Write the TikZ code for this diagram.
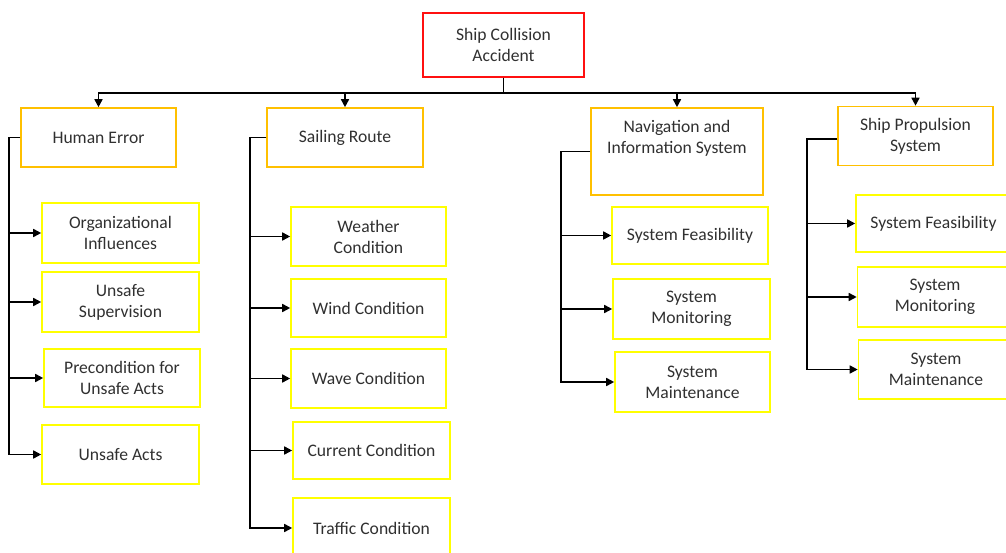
\documentclass[tikz,border=0pt]{standalone}
\usepackage{fontspec}
\setmainfont{Carlito}
\usetikzlibrary{arrows.meta}
\definecolor{txt}{HTML}{303030}
\definecolor{orangeb}{HTML}{FFC000}
\definecolor{yellowb}{HTML}{FFFF00}
\definecolor{redb}{HTML}{FF1010}
\tikzset{
  box/.style={draw, line width=1.6pt, align=center, inner sep=2pt, text=txt,
    font=\fontsize{17.6}{21}\selectfont},
  rootbox/.style={box, draw=redb},
  mainbox/.style={box, draw=orangeb},
  subbox/.style={box, draw=yellowb},
  conn/.style={line width=1.6pt, black, -{Triangle[length=8pt,width=8pt]}},
}
\begin{document}
\begin{tikzpicture}[x=1pt,y=-1pt]
\useasboundingbox (0,0) rectangle (1006,553);
\clip (0,0) rectangle (1006,553);
% root
\node[rootbox, minimum width=161pt, minimum height=64pt] (root) at (503.5,45) {Ship Collision\\Accident};
% main
\node[mainbox, minimum width=155pt, minimum height=59pt] (he) at (98.5,137.5) {Human Error};
\node[mainbox, minimum width=156pt, minimum height=59pt] (sr) at (345,137.5) {Sailing Route};
\node[mainbox, minimum width=172pt, minimum height=87pt] (nav) at (677,151.5) {\parbox[c][62pt][t]{165pt}{\centering Navigation and\\Information System}};
\node[mainbox, minimum width=155pt, minimum height=59pt] (sp) at (915.5,136) {Ship Propulsion\\System};
% human error children
\node[subbox, minimum width=157pt, minimum height=60pt] (c11) at (120.5,233) {Organizational\\Influences};
\node[subbox, minimum width=157pt, minimum height=60pt] (c12) at (120.5,302) {Unsafe\\Supervision};
\node[subbox, minimum width=156pt, minimum height=58pt] (c13) at (122,378) {Precondition for\\Unsafe Acts};
\node[subbox, minimum width=157pt, minimum height=59pt] (c14) at (120.5,454.5) {Unsafe Acts};
% sailing route children
\node[subbox, minimum width=155pt, minimum height=59pt] (c21) at (368.5,236.5) {Weather\\Condition};
\node[subbox, minimum width=155pt, minimum height=58pt] (c22) at (368.5,308) {Wind Condition};
\node[subbox, minimum width=155pt, minimum height=59pt] (c23) at (368.5,378.5) {Wave Condition};
\node[subbox, minimum width=157pt, minimum height=57pt] (c24) at (371.5,450.5) {Current Condition};
\node[subbox, minimum width=157pt, minimum height=60pt] (c25) at (371.5,528) {Traffic Condition};
% navigation children
\node[subbox, minimum width=156pt, minimum height=57pt] (c31) at (690,235.5) {System Feasibility};
\node[subbox, minimum width=157pt, minimum height=60pt] (c32) at (691.5,309) {System\\Monitoring};
\node[subbox, minimum width=155pt, minimum height=60pt] (c33) at (692.5,382) {System\\Maintenance};
% propulsion children
\node[subbox, minimum width=155pt, minimum height=57pt] (c41) at (933.5,223.5) {System Feasibility};
\node[subbox, minimum width=155pt, minimum height=60pt] (c42) at (935,297) {System\\Monitoring};
\node[subbox, minimum width=155pt, minimum height=59pt] (c43) at (936,369.5) {System\\Maintenance};
% top connectors
\foreach \m in {he,sr,nav,sp}
  \draw[conn] (root.south) -- ++(0,15) -| (\m.north);
% left buses
\foreach \c in {c11,c12,c13,c14}
  \draw[conn] (he.west) -- ++(-11,0) |- (\c.west);
\foreach \c in {c21,c22,c23,c24,c25}
  \draw[conn] (sr.west) -- ++(-16,0) |- (\c.west);
\foreach \c in {c31,c32,c33}
  \draw[conn] (nav.west) -- ++(-29,0) |- (\c.west);
\foreach \c in {c41,c42,c43}
  \draw[conn] ([yshift=-3pt]sp.west) -- ++(-30,0) |- (\c.west);
\end{tikzpicture}
\end{document}
